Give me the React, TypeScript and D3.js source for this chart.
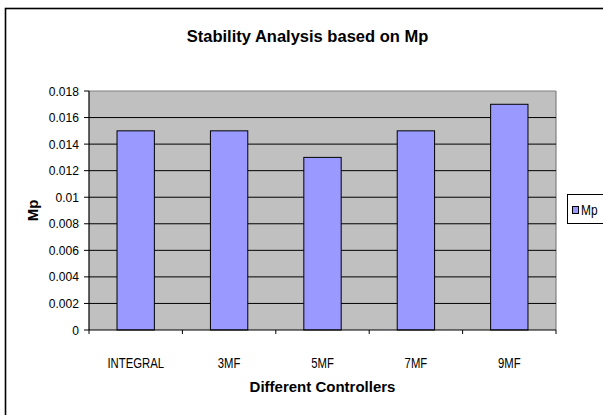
import React from "react";
import * as d3 from "d3";

const categories = ["INTEGRAL", "3MF", "5MF", "7MF", "9MF"];
const mpValues = [0.015, 0.015, 0.013, 0.015, 0.017];
const yTicks = [0, 0.002, 0.004, 0.006, 0.008, 0.01, 0.012, 0.014, 0.016, 0.018];
const yTickLabels = ["0", "0.002", "0.004", "0.006", "0.008", "0.01", "0.012", "0.014", "0.016", "0.018"];
const seriesName = "Mp";

export default function App() {
  const W = 603, H = 415;
  const left = 89, right = 556, top = 91, bottom = 330;
  const x = d3.scaleBand<string>().domain(categories).range([left, right]).paddingInner(0.6).paddingOuter(0.3);
  const band = d3.scaleBand<string>().domain(categories).range([left, right]);
  const y = d3.scaleLinear().domain([0, 0.018]).range([bottom, top]);
  const font = "'Liberation Sans', Arial, sans-serif";
  return (
    <svg width={W} height={H} style={{ position: "absolute", left: 0, top: 0, background: "#fff" }} fontFamily={font}>
      <rect x={5.5} y={8.5} width={700} height={500} fill="#fff" stroke="#000" strokeWidth={1.6} />
      <text x={307.5} y={42} textAnchor="middle" fontSize={16.5} fontWeight="bold" fill="#000">Stability Analysis based on Mp</text>
      <rect x={left} y={top} width={right - left} height={bottom - top} fill="#C0C0C0" />
      <line x1={left} x2={right} y1={top} y2={top} stroke="#808080" strokeWidth={1.2} />
      <line x1={right} x2={right} y1={top} y2={bottom} stroke="#808080" strokeWidth={1.2} />
      {yTicks.map((t, i) => (
        <g key={i}>
          {t > 0 && t < 0.018 && <line x1={left} x2={right} y1={y(t)} y2={y(t)} stroke="#000" strokeWidth={1} />}
          <line x1={left - 5} x2={left} y1={y(t)} y2={y(t)} stroke="#000" strokeWidth={1} />
          <text x={left - 10} y={y(t)} dy="0.35em" textAnchor="end" fontSize={13} fill="#000"
            transform={`translate(${left - 10},0) scale(0.93,1) translate(${-(left - 10)},0)`}>{yTickLabels[i]}</text>
        </g>
      ))}
      {categories.map((c, i) => (
        <rect key={c} x={x(c)} y={y(mpValues[i])} width={x.bandwidth()} height={bottom - y(mpValues[i])}
          fill="#9999FF" stroke="#000" strokeWidth={1} />
      ))}
      <line x1={left} x2={left} y1={top} y2={bottom} stroke="#000" strokeWidth={1.2} />
      <line x1={left} x2={right} y1={bottom} y2={bottom} stroke="#000" strokeWidth={1.2} />
      {categories.concat([""]).map((c, i) => {
        const xx = i < categories.length ? (band(c) as number) : right;
        return <line key={"t" + i} x1={xx} x2={xx} y1={bottom} y2={bottom + 4} stroke="#000" strokeWidth={1} />;
      })}
      {categories.map((c) => {
        const cx = (band(c) as number) + band.bandwidth() / 2;
        return (
          <text key={"l" + c} textAnchor="middle" fontSize={14.5} fill="#000"
            transform={`translate(${cx},367.5) scale(0.78,1)`}>{c}</text>
        );
      })}
      <text x={(left + right) / 2} y={392} textAnchor="middle" fontSize={15} fontWeight="bold" fill="#000">Different Controllers</text>
      <text transform={`translate(37.5,${(top + bottom) / 2}) rotate(-90)`} textAnchor="middle" fontSize={15} fontWeight="bold" fill="#000">Mp</text>
      <rect x={567.5} y={194.5} width={80} height={29} fill="#fff" stroke="#000" strokeWidth={1} />
      <rect x={572.5} y={206.5} width={6} height={7} fill="#9999FF" stroke="#000" strokeWidth={1} />
      <text fontSize={14} fill="#000" transform={`translate(581,215) scale(0.85,1)`}>{seriesName}</text>
    </svg>
  );
}
